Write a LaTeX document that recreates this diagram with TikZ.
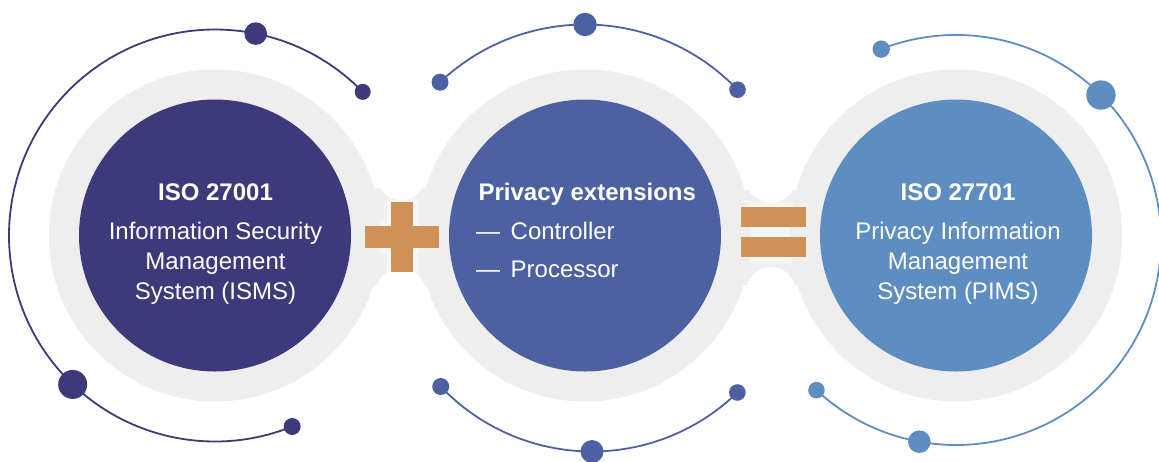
\documentclass[tikz,border=0pt]{standalone}
\usepackage{fontspec}
\setmainfont{Liberation Sans}
\usetikzlibrary{calc}
\definecolor{cA}{HTML}{3C3A7A}
\definecolor{cB}{HTML}{4D61A2}
\definecolor{cC}{HTML}{5E8DC2}
\definecolor{ringgray}{HTML}{EEEEEE}
\definecolor{opsign}{HTML}{CF9155}
\begin{document}
\begin{tikzpicture}[x=1pt,y=1pt,
  mainc/.style={circle, minimum size=272pt, inner sep=0pt, draw=none},
  ringc/.style={circle, minimum size=332pt, inner sep=0pt, fill=ringgray, draw=none},
  orbit/.style={line width=1.8pt},
  glowA/.style={draw=white, line width=14pt, opacity=0.2, line join=round},
  glowB/.style={draw=white, line width=9pt, opacity=0.3, line join=round},
  glowC/.style={draw=white, line width=4pt, opacity=0.45, line join=round},
  txt/.style={text=white, inner sep=0pt, font=\fontsize{24}{28}\selectfont},
  ttl/.style={txt, font=\fontsize{24}{28}\selectfont\bfseries}
]
\useasboundingbox (0,0) rectangle (1159,-461);
\coordinate (o1) at (215,-235.5);
\coordinate (o2) at (585,-235.5);
\coordinate (o3) at (956,-235.5);
\coordinate (o2b) at (592,-243);
\coordinate (o3r) at (956,-240);

% bridges between rings
\fill[ringgray] (360,-188) rectangle (445,-285);
\fill[ringgray] (730,-190) rectangle (815,-285);
\fill[white] (401,-175) circle[radius=25];
\fill[white] (401,-293) circle[radius=25];
\fill[white] (771,-178) circle[radius=25];
\fill[white] (771,-292) circle[radius=25];

% soft white glow behind the signs (visible only in the necks)
\foreach \g in {glowA,glowB,glowC}{
  \path[\g] (391,-202) -- (413,-202) -- (413,-226) -- (439,-226) -- (439,-248)
     -- (413,-248) -- (413,-272) -- (391,-272) -- (391,-248) -- (365,-248)
     -- (365,-226) -- (391,-226) -- cycle;
  \path[\g] (741,-207) rectangle (806,-227);
  \path[\g] (741,-237) rectangle (806,-257);
}

% rings
\node[ringc] (r1) at (o1) {};
\node[ringc] (r2) at (o2) {};
\node[ringc] (r3) at (o3) {};

% main circles
\node[mainc, fill=cA] (m1) at (o1) {};
\node[mainc, fill=cB] (m2) at (o2) {};
\node[mainc, fill=cC] (m3) at (o3) {};

% plus sign
\fill[opsign] (391,-202) rectangle (413,-272);
\fill[opsign] (365,-226) rectangle (439,-248);
% equal sign
\fill[opsign] (741,-207) rectangle (806,-227);
\fill[opsign] (741,-237) rectangle (806,-257);

% orbit 1
\draw[orbit, cA] ($(o1)+(44.2:206)$) arc[start angle=44.2, end angle=292, radius=206];
\fill[cA] ($(o1)+(44.2:206)$) circle[radius=8];
\fill[cA] ($(o1)+(78.6:206)$) circle[radius=11.3];
\fill[cA] ($(o1)+(226.3:206)$) circle[radius=14.5];
\fill[cA] ($(o1)+(292:206)$) circle[radius=8.5];

% orbit 2 top
\draw[orbit, cB] ($(o2)+(43.7:211)$) arc[start angle=43.7, end angle=133.4, radius=211];
\fill[cB] ($(o2)+(43.7:211)$) circle[radius=8.3];
\fill[cB] ($(o2)+(90:211)$) circle[radius=11.7];
\fill[cB] ($(o2)+(133.4:211)$) circle[radius=8.5];
% orbit 2 bottom
\draw[orbit, cB] ($(o2b)+(223.5:208.5)$) arc[start angle=223.5, end angle=314.2, radius=208.5];
\fill[cB] ($(o2b)+(223.5:208.5)$) circle[radius=8.5];
\fill[cB] ($(o2b)+(270:208.5)$) circle[radius=11.5];
\fill[cB] ($(o2b)+(314.2:208.5)$) circle[radius=8.3];

% orbit 3
\draw[orbit, cC] ($(o3r)+(111.4:205)$) arc[start angle=111.4, end angle=-132.9, radius=205];
\fill[cC] ($(o3r)+(111.4:205)$) circle[radius=8.7];
\fill[cC] ($(o3r)+(45:205)$) circle[radius=14.7];
\fill[cC] ($(o3r)+(-100.3:205)$) circle[radius=11.3];
\fill[cC] ($(o3r)+(-132.9:205)$) circle[radius=8.3];

% texts circle 1
\node[ttl, anchor=base] (t1a) at (215.5,-200) {ISO 27001};
\node[txt, anchor=base] (t1b) at (215.5,-239.5) {Information Security};
\node[txt, anchor=base] (t1c) at (215.5,-269.5) {Management};
\node[txt, anchor=base] (t1d) at (215.5,-299.5) {System (ISMS)};

% texts circle 2
\node[ttl, anchor=base] (t2a) at (587.3,-200) {Privacy extensions};
\node[txt, anchor=base west] (t2b) at (476,-239.3) {—\hspace{10.5pt}Controller};
\node[txt, anchor=base west] (t2c) at (476,-277.7) {—\hspace{10.5pt}Processor};

% texts circle 3
\node[ttl, anchor=base] (t3a) at (958,-200) {ISO 27701};
\node[txt, anchor=base] (t3b) at (958,-239.5) {Privacy Information};
\node[txt, anchor=base] (t3c) at (958,-269.5) {Management};
\node[txt, anchor=base] (t3d) at (958,-299.5) {System (PIMS)};
\end{tikzpicture}
\end{document}
